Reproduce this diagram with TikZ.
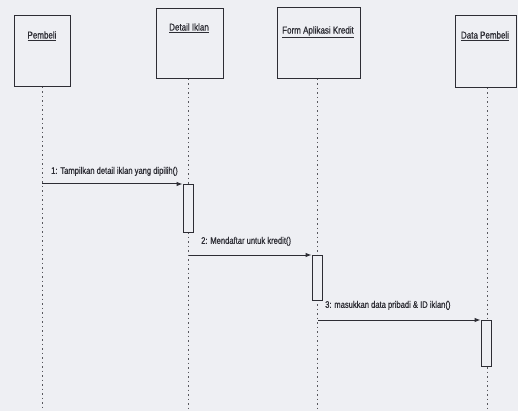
\documentclass[tikz,border=0pt]{standalone}
\usepackage{fontspec}
\setmainfont[FakeStretch=0.8,FakeBold=0.8]{Liberation Sans}
\usetikzlibrary{arrows.meta}
\definecolor{bg}{RGB}{238,239,243}
\definecolor{ink}{RGB}{45,45,52}
\begin{document}
\begin{tikzpicture}[x=1pt,y=-1pt,
  obj/.style={draw=ink,line width=1pt,fill=bg,anchor=north west,inner sep=0pt},
  ttl/.style={font=\fontsize{10}{11}\selectfont,text=ink,inner sep=1pt},
  life/.style={draw=ink!80,dash pattern=on 1.5pt off 3pt,line width=0.8pt},
  act/.style={draw=ink,line width=0.9pt,fill=bg,minimum width=10pt,inner sep=0pt,anchor=north},
  msg/.style={draw=ink,line width=1pt,-{Latex[length=6pt,width=4.5pt]}},
  lbl/.style={font=\fontsize{9.5}{10}\selectfont,text=ink,anchor=south west,inner sep=1pt}]
\fill[bg] (0,0) rectangle (518,411);
\useasboundingbox (0,0) rectangle (518,411);
% objects
\node[obj,minimum width=56pt,minimum height=71pt] (o1) at (14,15) {};
\node[obj,minimum width=67pt,minimum height=70pt] (o2) at (156,8) {};
\node[obj,minimum width=83pt,minimum height=71pt] (o3) at (277,7) {};
\node[obj,minimum width=61pt,minimum height=72pt] (o4) at (455,15) {};
\node[ttl] (t1) at (42,36) {\underline{Pembeli}};
\node[ttl] (t2) at (189,28) {\underline{Detail Iklan}};
\node[ttl] (t3) at (318,32) {\underline{Form Aplikasi Kredit}};
\node[ttl] (t4) at (485,36) {\underline{Data Pembeli}};
% lifeline ends
\coordinate (e1) at (42,411);
\coordinate (e2) at (188,411);
\coordinate (e3) at (317,411);
\coordinate (e4) at (487,411);
\draw[life] (o1.south -| e1) -- (e1);
\draw[life] (o2.south -| e2) -- (e2);
\draw[life] (o3.south -| e3) -- (e3);
\draw[life] (o4.south -| e4) -- (e4);
% activations
\node[act,minimum height=48pt] (a2) at (188,184) {};
\node[act,minimum height=45pt] (a3) at (317,255) {};
\node[act,minimum height=46pt] (a4) at (486,320) {};
% messages
\coordinate (m1) at (42,184);
\coordinate (m2) at (189,255);
\coordinate (m3) at (318,320);
\draw[msg] (m1) -- (a2.north west);
\draw[msg] (m2) -- (a3.north west);
\draw[msg] (m3) -- (a4.north west);
\node[lbl] (l1) at (50,177) {1: Tampilkan detail iklan yang dipilih()};
\node[lbl] (l2) at (200,247) {2: Mendaftar untuk kredit()};
\node[lbl] (l3) at (324,311) {3: masukkan data pribadi \& ID iklan()};
\end{tikzpicture}
\end{document}
